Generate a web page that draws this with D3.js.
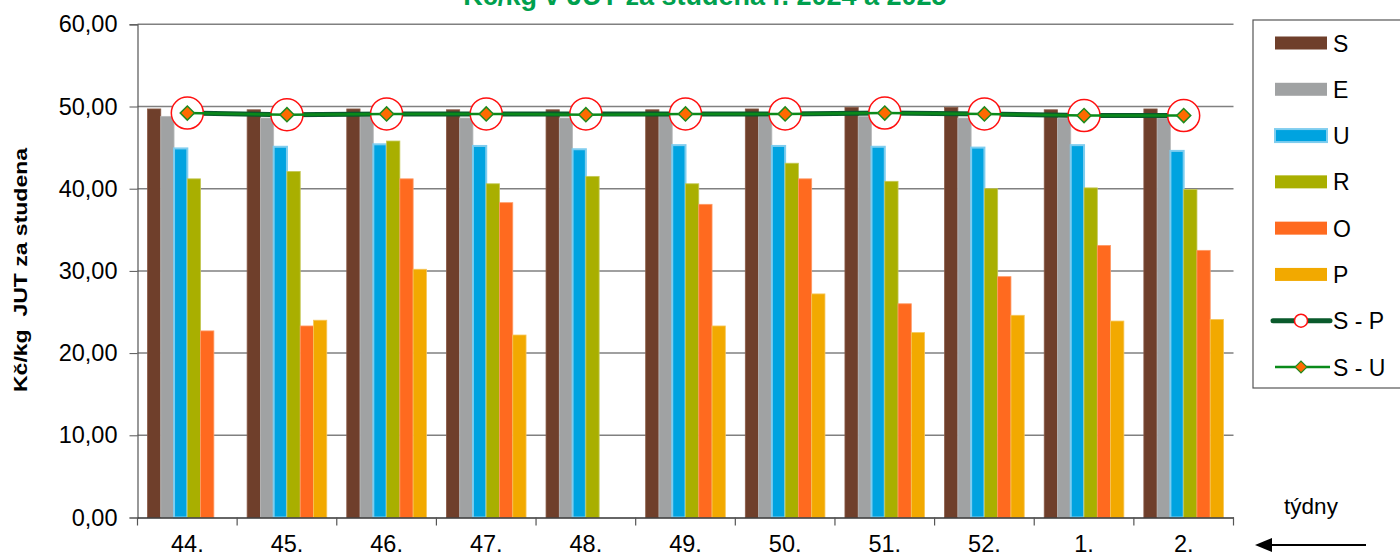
<!DOCTYPE html>
<html>
<head>
<meta charset="utf-8">
<script src="https://cdn.jsdelivr.net/npm/d3@7"></script>
<style>
  body { margin: 0; background: #fff; }
  svg { display: block; font-family: "Liberation Sans", Arial, sans-serif; }
</style>
</head>
<body>
<script>
const weeks = ["44.", "45.", "46.", "47.", "48.", "49.", "50.", "51.", "52.", "1.", "2."];
const barSeries = ["S", "E", "U", "R", "O", "P"];
const valS = [49.7, 49.6, 49.7, 49.6, 49.6, 49.6, 49.7, 49.9, 49.9, 49.6, 49.7];
const valE = [48.8, 48.6, 48.8, 48.6, 48.6, 48.9, 48.8, 48.8, 48.6, 48.6, 48.6];
const valU = [44.9, 45.1, 45.4, 45.2, 44.8, 45.3, 45.2, 45.1, 45.0, 45.3, 44.6];
const valR = [41.2, 42.1, 45.8, 40.6, 41.5, 40.6, 43.1, 40.9, 40.0, 40.1, 39.9];
const valO = [22.7, 23.3, 41.2, 38.3, null, 38.1, 41.2, 26.0, 29.3, 33.1, 32.5];
const valP = [null, 24.0, 30.2, 22.2, null, 23.3, 27.2, 22.5, 24.6, 23.9, 24.1];
const valSP = [49.2, 49.0, 49.1, 49.1, 49.1, 49.1, 49.1, 49.2, 49.1, 48.9, 48.9];
const valSU = [49.2, 49.0, 49.1, 49.1, 49.0, 49.1, 49.1, 49.2, 49.1, 48.9, 48.9];
const yTicks = [0, 10, 20, 30, 40, 50, 60];

const barValues = { S: valS, E: valE, U: valU, R: valR, O: valO, P: valP };
const fills = { S: "#6f3f2b", E: "#a0a2a3", U: "#00a3e0", R: "#a9af00", O: "#ff6a1f", P: "#f2a900" };
const edges = { S: "#8a5a46", E: "#b8babb", U: "#7fcdef", R: "#c4c855", O: "#ff9a66", P: "#f6c659" };

const width = 1400, height = 554;
const plotLeft = 137.5, plotRight = 1233.5, plotTop = 24.3, plotBottom = 517.5;
const fontFam = "Liberation Sans, Arial, sans-serif";

const svg = d3.select("body").append("svg")
  .attr("width", width)
  .attr("height", height);

// scales
const x0 = d3.scaleBand().domain(weeks).range([plotLeft, plotRight]).padding(0);
const x1 = d3.scaleBand().domain(barSeries).range([10, x0.bandwidth() - 10]).padding(0);
const y = d3.scaleLinear().domain([0, 60]).range([plotBottom, plotTop]);

// gridlines
svg.append("g")
  .selectAll("line")
  .data(yTicks.filter(d => d > 0))
  .enter()
  .append("line")
  .attr("x1", plotLeft)
  .attr("x2", plotRight)
  .attr("y1", d => y(d))
  .attr("y2", d => y(d))
  .attr("stroke", "#808080")
  .attr("stroke-width", 1.5);

// y axis
const yAxis = d3.axisLeft(y)
  .tickValues(yTicks)
  .tickSize(8)
  .tickPadding(12)
  .tickFormat(d => d3.format(".2f")(d).replace(".", ","));

svg.append("g")
  .attr("transform", `translate(${plotLeft},0)`)
  .call(yAxis)
  .call(g => g.select(".domain").attr("stroke", "#555").attr("stroke-width", 1.2))
  .call(g => g.selectAll(".tick line").attr("stroke", "#555"))
  .call(g => g.selectAll("text").attr("font-size", 23.5).attr("fill", "#000")
    .attr("font-family", fontFam));

// bars
const groups = svg.append("g")
  .selectAll("g")
  .data(weeks)
  .enter()
  .append("g")
  .attr("transform", d => `translate(${x0(d)},0)`);

groups.selectAll("rect")
  .data((w, i) => barSeries.map(s => ({ key: s, value: barValues[s][i] })).filter(d => d.value != null))
  .enter()
  .append("rect")
  .attr("x", d => x1(d.key))
  .attr("y", d => y(d.value))
  .attr("width", x1.bandwidth())
  .attr("height", d => y(0) - y(d.value))
  .attr("fill", d => fills[d.key])
  .attr("stroke", d => edges[d.key])
  .attr("stroke-width", d => d.key === "U" ? 2 : 0.8);

// x axis
const xAxis = d3.axisBottom(x0).tickSize(0).tickPadding(18);
svg.append("g")
  .attr("transform", `translate(0,${plotBottom})`)
  .call(xAxis)
  .call(g => g.select(".domain").attr("stroke", "#333").attr("stroke-width", 1.5))
  .call(g => g.selectAll("text").attr("font-size", 23.5).attr("fill", "#000")
    .attr("font-family", fontFam));

svg.append("g")
  .selectAll("line")
  .data(weeks.concat(["end"]))
  .enter()
  .append("line")
  .attr("x1", (d, i) => plotLeft + i * x0.bandwidth())
  .attr("x2", (d, i) => plotLeft + i * x0.bandwidth())
  .attr("y1", plotBottom)
  .attr("y2", plotBottom + 8)
  .attr("stroke", "#555")
  .attr("stroke-width", 1.2);

// lines
const cx = (d, i) => x0(weeks[i]) + x0.bandwidth() / 2;
const spLine = d3.line().x(cx).y(d => y(d));

svg.append("path")
  .datum(valSP)
  .attr("d", spLine)
  .attr("fill", "none")
  .attr("stroke", "#0a5a2c")
  .attr("stroke-width", 5);

svg.append("g")
  .selectAll("circle")
  .data(valSP)
  .enter()
  .append("circle")
  .attr("cx", cx)
  .attr("cy", d => y(d))
  .attr("r", 16)
  .attr("fill", "#fff")
  .attr("stroke", "#ff1010")
  .attr("stroke-width", 1.5);

svg.append("path")
  .datum(valSU)
  .attr("d", spLine)
  .attr("fill", "none")
  .attr("stroke", "#0a8a1a")
  .attr("stroke-width", 2.5);

const diamond = d3.symbol().type(d3.symbolSquare).size(100);
svg.append("g")
  .selectAll("path")
  .data(valSU)
  .enter()
  .append("path")
  .attr("d", diamond)
  .attr("transform", (d, i) => `translate(${cx(d, i)},${y(d)}) rotate(45)`)
  .attr("fill", "#ff6a00")
  .attr("stroke", "#1f8a1f")
  .attr("stroke-width", 1.5);

// title (cut at the top edge, like the original)
svg.append("text")
  .attr("x", 705)
  .attr("y", 5)
  .attr("text-anchor", "middle")
  .attr("font-size", 27)
  .attr("font-weight", "bold")
  .attr("fill", "#00a04e")
  .text("Kč/kg v JUT za studena r. 2024 a 2025");

// y label
svg.append("text")
  .attr("transform", "translate(27,270) rotate(-90)")
  .attr("text-anchor", "middle")
  .attr("font-size", 18)
  .attr("font-weight", "bold")
  .attr("fill", "#000")
  .attr("xml:space", "preserve")
  .attr("textLength", 244)
  .attr("lengthAdjust", "spacingAndGlyphs")
  .text("Kč/kg  JUT za studena");

// týdny + arrow
svg.append("text")
  .attr("x", 1311)
  .attr("y", 514)
  .attr("text-anchor", "middle")
  .attr("font-size", 22.5)
  .attr("fill", "#000")
  .text("týdny");

svg.append("line")
  .attr("x1", 1366)
  .attr("x2", 1270)
  .attr("y1", 545)
  .attr("y2", 545)
  .attr("stroke", "#000")
  .attr("stroke-width", 2);
svg.append("path")
  .attr("d", "M1255,545 L1272,538 L1272,552 Z")
  .attr("fill", "#000");

// legend
const legend = svg.append("g").attr("transform", "translate(1253,20)");
legend.append("rect")
  .attr("x", 0)
  .attr("y", 0)
  .attr("width", 160)
  .attr("height", 368)
  .attr("fill", "#fff")
  .attr("stroke", "#555")
  .attr("stroke-width", 1.2);

const legendItems = barSeries.concat(["S - P", "S - U"]);
const ly = d3.scalePoint().domain(legendItems).range([23, 347]);

legendItems.forEach(k => {
  const g = legend.append("g").attr("transform", `translate(0,${ly(k)})`);
  if (fills[k]) {
    g.append("rect")
      .attr("x", 22)
      .attr("y", -6.5)
      .attr("width", 52)
      .attr("height", 13)
      .attr("fill", fills[k])
      .attr("stroke", k === "U" ? edges[k] : "none")
      .attr("stroke-width", 2);
  } else if (k === "S - P") {
    g.append("line").attr("x1", 20).attr("x2", 77).attr("y1", 0).attr("y2", 0)
      .attr("stroke", "#0a5a2c").attr("stroke-width", 5).attr("stroke-linecap", "round");
    g.append("circle").attr("cx", 48).attr("cy", 0).attr("r", 6.5)
      .attr("fill", "#fff").attr("stroke", "#ff1010").attr("stroke-width", 1.5);
  } else {
    g.append("line").attr("x1", 22).attr("x2", 77).attr("y1", 0).attr("y2", 0)
      .attr("stroke", "#0a8a1a").attr("stroke-width", 2.5);
    g.append("path").attr("d", d3.symbol().type(d3.symbolSquare).size(70))
      .attr("transform", "translate(48,0) rotate(45)")
      .attr("fill", "#ff6a00").attr("stroke", "#1f8a1f").attr("stroke-width", 1.2);
  }
  g.append("text")
    .attr("x", 80)
    .attr("y", 8.5)
    .attr("font-size", 23)
    .attr("fill", "#000")
    .text(k);
});
</script>
</body>
</html>
